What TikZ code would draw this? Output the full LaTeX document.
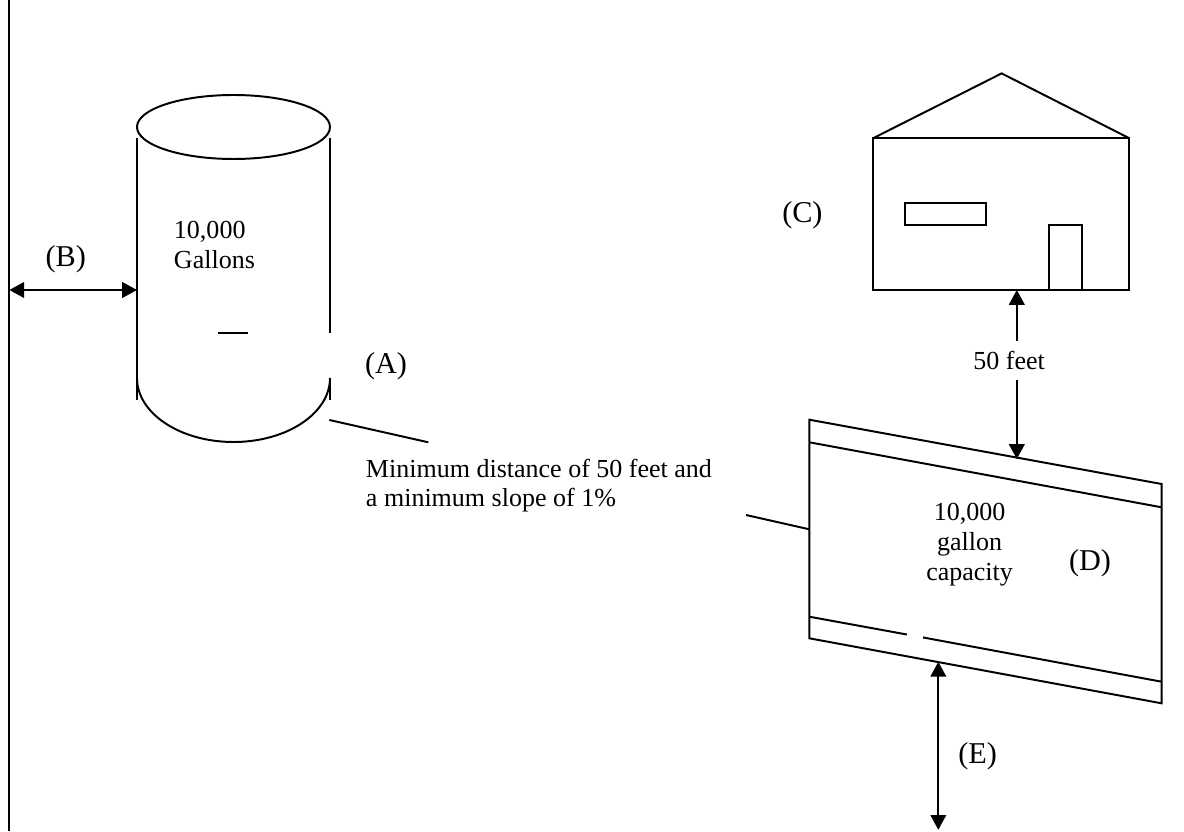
\documentclass[tikz,border=0pt]{standalone}
\usepackage{fontspec}
\setmainfont{Liberation Serif}
\usepackage{tikz}
\usetikzlibrary{arrows.meta}

\begin{document}
\begin{tikzpicture}[line width=1.4pt,
    txt/.style={font=\fontsize{18.5}{21.3}\selectfont, inner sep=0pt},
    tag/.style={font=\fontsize{21.5}{25}\selectfont, inner sep=0pt},
    dim/.style={{Triangle[length=0.37cm,width=0.39cm]}-{Triangle[length=0.37cm,width=0.39cm]}}]
            \useasboundingbox (0,0) rectangle (29.6,20.775);
            % Property line and distance (B)
            \coordinate (wtop) at (0.233,20.775);
            \coordinate (wbot) at (0.233,0);
            \draw (wtop) -- (wbot);
            \coordinate (bw) at (0.233,13.525);
            \coordinate (bc) at (3.425,13.525);
            \draw[dim] (bw) -- (bc);
            \node[tag] (B) at (1.645,14.295) {(B)};
            
            % Above ground tank (A)
            \draw (5.8375,17.6) ellipse [x radius=2.4125, y radius=0.8];
            \draw (3.425,17.325) -- (3.425,10.775);
            \draw (8.25,17.325) -- (8.25,12.45);
            \draw (8.25,11.325) -- (8.25,10.775);
            \draw (3.425,11.325) arc [start angle=180, end angle=360, x radius=2.4125, y radius=1.6];
            \draw (5.46,12.44) -- (6.21,12.44);
            \node[txt, anchor=west, align=left] (gal) at (4.325,14.66) {10,000\\Gallons};
            \node[tag] (A) at (9.65,11.625) {(A)};
            
            % Pipe with slope note
            \coordinate (p1) at (8.233,10.275);
            \coordinate (p2) at (10.708,9.7175);
            \coordinate (p3) at (18.65,7.9);
            \coordinate (p4) at (20.233,7.5425);
            \draw (p1) -- (p2);
            \draw (p3) -- (p4);
            \node[txt, anchor=west, align=left] (slope) at (9.125,8.635) {Minimum distance of 50 feet and\\a minimum slope of 1\%};
            
            % Building (C)
            \draw (21.83,17.32) -- (25.04,18.94) -- (28.23,17.32);
            \draw (21.83,13.525) rectangle (28.23,17.32);
            \draw (22.625,15.15) rectangle (24.64,15.69);
            \draw (26.23,13.525) rectangle (27.04,15.15);
            \node[tag] (C) at (20.06,15.395) {(C)};
            
            % Distance building to tank
            \coordinate (hb) at (25.42,13.525);
            \coordinate (tt) at (25.42,9.3);
            \draw[dim] (hb) -- (tt);
            \node[txt, fill=white, inner xsep=2pt, inner ysep=0.25cm] (feet) at (25.23,11.765) {50 feet};
            
            % Underground tank (D)
            \coordinate (d1) at (20.233,10.2825);
            \coordinate (d2) at (29.04,8.675);
            \coordinate (d3) at (29.04,3.1925);
            \coordinate (d4) at (20.233,4.8175);
            \draw (d1) -- (d2) -- (d3) -- (d4) -- cycle;
            \draw (20.233,9.7175) -- (29.04,8.0925);
            \draw (20.233,5.3575) -- (22.67,4.9127);
            \draw (23.075,4.8388) -- (29.04,3.7325);
            \node[txt, align=center] (cap) at (24.24,7.16) {10,000\\gallon\\capacity};
            \node[tag] (D) at (27.25,6.69) {(D)};
            
            % Depth below tank (E)
            \coordinate (tb) at (23.4575,4.229);
            \coordinate (eb) at (23.4575,0.03);
            \draw[dim] (tb) -- (eb);
            \node[tag] (E) at (24.44,1.86) {(E)};
        \end{tikzpicture}
\end{document}
